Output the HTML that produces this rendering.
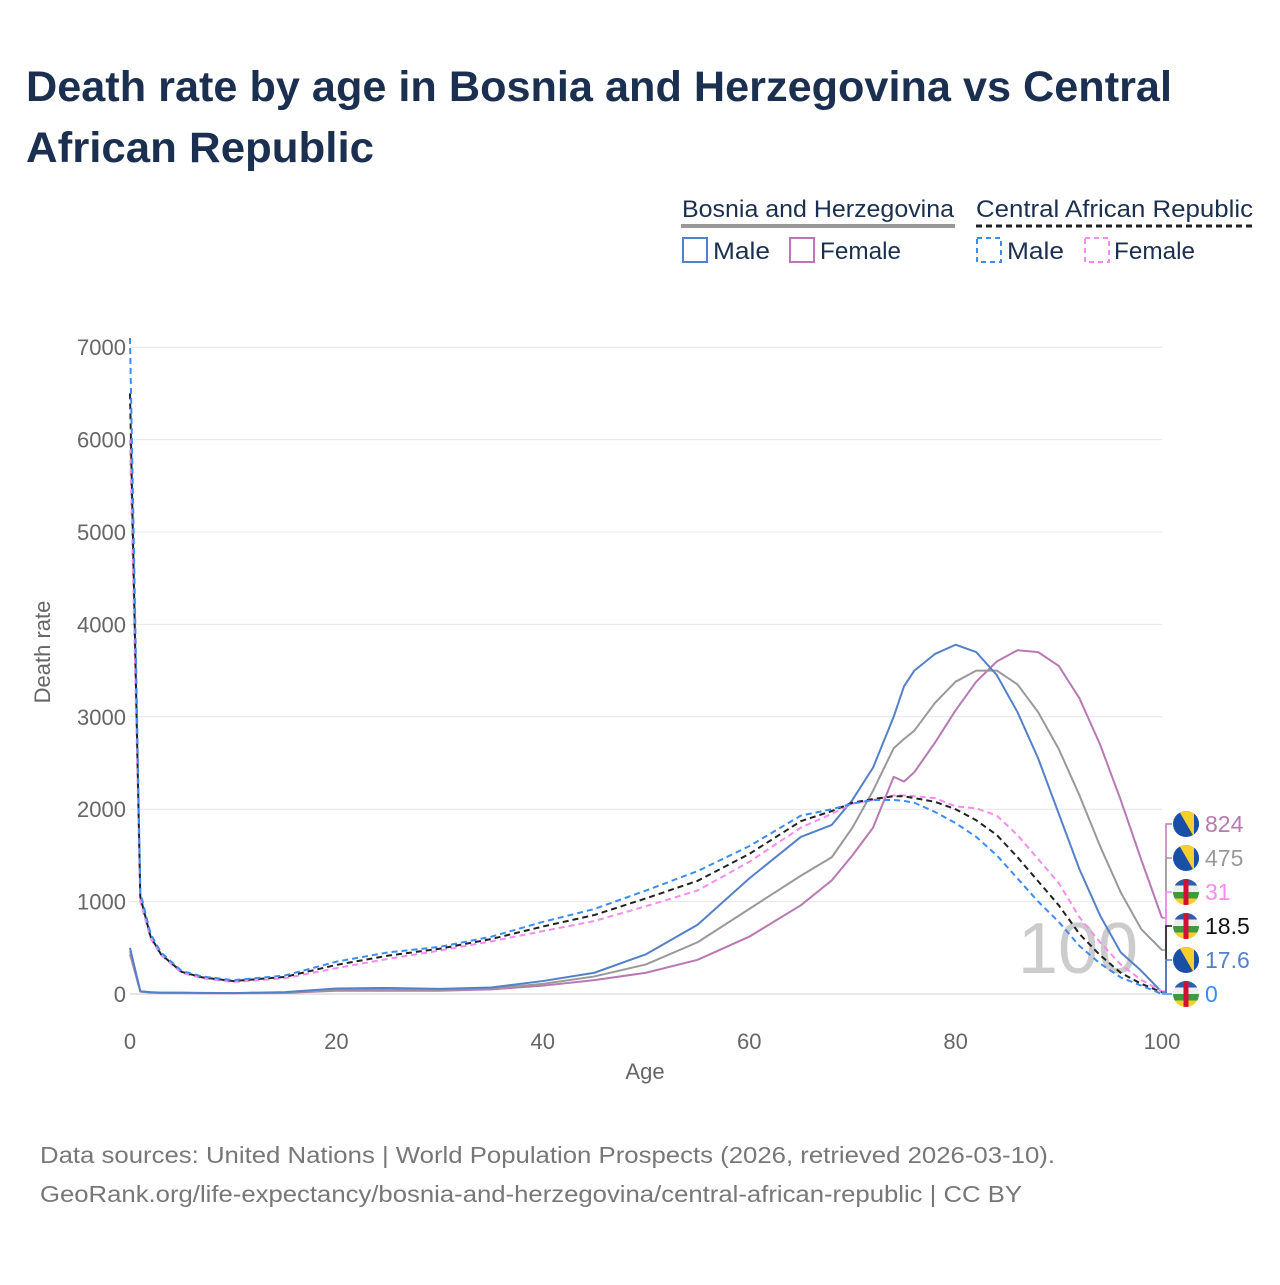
<!DOCTYPE html>
<html><head><meta charset="utf-8"><style>
body{margin:0;background:#fff;font-family:"Liberation Sans",sans-serif;}
</style></head><body>
<svg id="c" width="1280" height="1280" xmlns="http://www.w3.org/2000/svg">
<defs>
<clipPath id="cc"><circle cx="0" cy="0" r="13"/></clipPath>
</defs>
<text x="26" y="101" font-size="43" font-weight="bold" fill="#1b3050" textLength="1146" lengthAdjust="spacingAndGlyphs">Death rate by age in Bosnia and Herzegovina vs Central</text>
<text x="26" y="162" font-size="43" font-weight="bold" fill="#1b3050" textLength="348" lengthAdjust="spacingAndGlyphs">African Republic</text>
<g font-size="24" fill="#1b3050">
<text x="682" y="217" textLength="272" lengthAdjust="spacingAndGlyphs">Bosnia and Herzegovina</text>
<line x1="681" y1="226" x2="955" y2="226" stroke="#999" stroke-width="4"/>
<text x="976" y="217" textLength="277" lengthAdjust="spacingAndGlyphs">Central African Republic</text>
<line x1="976" y1="226" x2="1254" y2="226" stroke="#222" stroke-width="3" stroke-dasharray="6,4"/>
<rect x="683" y="238" width="24" height="24" fill="none" stroke="#5480c9" stroke-width="2"/>
<text x="713" y="259" textLength="57" lengthAdjust="spacingAndGlyphs">Male</text>
<rect x="790" y="238" width="24" height="24" fill="none" stroke="#b878b4" stroke-width="2"/>
<text x="820" y="259" textLength="81" lengthAdjust="spacingAndGlyphs">Female</text>
<rect x="977" y="238" width="24" height="24" fill="none" stroke="#3b8cf5" stroke-width="2" stroke-dasharray="5,4"/>
<text x="1007" y="259" textLength="57" lengthAdjust="spacingAndGlyphs">Male</text>
<rect x="1085" y="238" width="24" height="24" fill="none" stroke="#f58cf0" stroke-width="2" stroke-dasharray="5,4"/>
<text x="1114" y="259" textLength="81" lengthAdjust="spacingAndGlyphs">Female</text>
</g>
<g id="grid"></g>
<text x="1078" y="973" font-size="72" fill="#ccc" text-anchor="middle">100</text>
<g id="series"></g>
<g id="labels"></g>
<text x="645" y="1079" font-size="22" fill="#666" text-anchor="middle">Age</text>
<text transform="translate(50,652) rotate(-90)" font-size="22" fill="#666" text-anchor="middle">Death rate</text>
<text x="40" y="1163" font-size="23" fill="#777" textLength="1015" lengthAdjust="spacingAndGlyphs">Data sources: United Nations | World Population Prospects (2026, retrieved 2026-03-10).</text>
<text x="40" y="1202" font-size="23" fill="#777" textLength="982" lengthAdjust="spacingAndGlyphs">GeoRank.org/life-expectancy/bosnia-and-herzegovina/central-african-republic | CC BY</text>
</svg>
<script>
const ages=[0,1,2,3,5,7,10,15,20,25,30,35,40,45,50,55,60,65,68,70,72,74,75,76,78,80,82,84,86,88,90,92,94,96,98,100];
const cafMale=[7100,1100,650,450,250,190,150,200,350,450,510,620,780,920,1120,1330,1600,1930,2000,2060,2100,2100,2090,2070,1970,1850,1700,1500,1250,1000,780,520,330,180,90,0];
const cafFemale=[6000,1000,600,420,230,170,130,170,280,380,470,570,680,790,950,1120,1430,1800,1950,2060,2100,2150,2150,2140,2120,2030,2010,1930,1720,1460,1200,830,560,320,150,31];
const cafTotal=[6500,1050,620,430,240,180,140,185,315,415,490,595,730,855,1035,1225,1515,1870,1980,2070,2110,2140,2140,2120,2080,2000,1880,1720,1480,1220,960,650,420,230,110,18.5];
const bihMale=[500,30,20,15,15,12,10,20,60,65,55,70,140,230,430,750,1250,1700,1830,2100,2450,3000,3330,3500,3680,3780,3700,3450,3050,2550,1950,1350,850,450,250,17.6];
const bihFemale=[430,25,15,12,10,8,8,12,35,35,35,50,90,150,230,370,620,960,1230,1500,1800,2350,2300,2400,2720,3070,3380,3600,3720,3700,3550,3200,2700,2100,1450,824];
const bihTotal=[470,28,18,13,12,10,9,16,48,50,45,60,110,190,320,560,920,1280,1480,1800,2200,2660,2760,2850,3150,3380,3500,3500,3350,3050,2650,2150,1600,1100,700,475];
const yTicks=[0,1000,2000,3000,4000,5000,6000,7000];
const xTicks=[0,20,40,60,80,100];
const X=a=>130+a*10.32, Y=v=>994-v*0.0924;
const NS="http://www.w3.org/2000/svg";
function mk(t,p,at){const e=document.createElementNS(NS,t);for(const k in at)e.setAttribute(k,at[k]);p.appendChild(e);return e;}
const g=document.getElementById('grid');
yTicks.forEach(v=>{
 const l=mk('line',g,{x1:130,x2:1162,y1:Y(v),y2:Y(v),stroke:v?'#e6e6e6':'#ccc','stroke-width':1});
 
 
 const t=mk('text',g,{x:126,y:Y(v)+8,'font-size':22,fill:'#666','text-anchor':'end'});t.textContent=v;
 
 
});
xTicks.forEach(v=>{
 const t=mk('text',g,{x:X(v),y:1049,'font-size':22,fill:'#666','text-anchor':'middle'});t.textContent=v;
 
 
});
const s=document.getElementById('series');
const defs=[[bihFemale,'#b878b4',null,'bih-female-line'],[bihTotal,'#999',null,'bih-total-line'],[bihMale,'#5480c9',null,'bih-male-line'],[cafFemale,'#f58cf0','6,4','caf-female-line'],[cafTotal,'#222','6,4','caf-total-line'],[cafMale,'#3b8cf5','6,4','caf-male-line']];
defs.forEach(([d,c,da,n])=>{
 const p=mk('polyline',s,{points:d.map((v,i)=>X(ages[i])+','+Y(v)).join(' '),fill:'none',stroke:c,'stroke-width':2,'stroke-linejoin':'round'});
 if(da)p.setAttribute('stroke-dasharray',da);
 
 
});
const L=document.getElementById('labels');
const labs=[[bihFemale,'#b878b4','824','bih'],[bihTotal,'#999','475','bih'],[cafFemale,'#f58cf0','31','caf'],[cafTotal,'#111','18.5','caf'],[bihMale,'#5480c9','17.6','bih'],[cafMale,'#3b8cf5','0','caf']];
labs.forEach(([d,c,txt,f],i)=>{
 const ly=824+i*34, vy=Y(d[d.length-1]);
 const pl=mk('polyline',L,{points:`1162,${vy} 1166,${vy} 1166,${ly} 1172,${ly}`,fill:'none',stroke:c,'stroke-width':1.5});
 
 
 const fg=mk('g',L,{transform:`translate(1186,${ly})`,'clip-path':'url(#cc)'});
 
 
 if(f==='bih'){mk('rect',fg,{x:-13,y:-13,width:26,height:26,fill:'#1a4fa8'});mk('polygon',fg,{points:'-7,-13 8,-13 8,13',fill:'#f7cf2c'});mk('rect',fg,{x:8,y:-13,width:5,height:26,fill:'#1a4fa8'});}
 else{[['#2a5fb0',-13],['#eee',-6.5],['#3e9a3e',0],['#f7d02c',6.5]].forEach(([col,y])=>mk('rect',fg,{x:-13,y:y,width:26,height:6.5,fill:col}));mk('rect',fg,{x:-2.5,y:-13,width:5,height:26,fill:'#d21034'});}
 const t=mk('text',L,{x:1205,y:ly+8,'font-size':23,fill:c});t.textContent=txt;
 
 
});
</script>
</body></html>
